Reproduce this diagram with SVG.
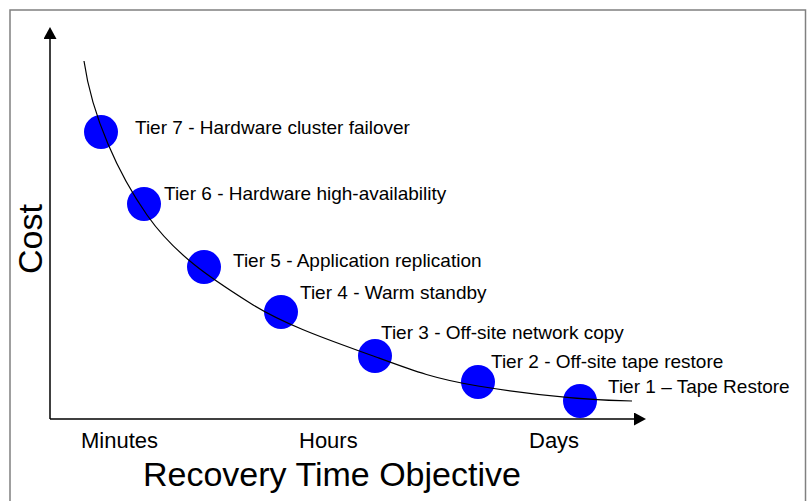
<svg xmlns="http://www.w3.org/2000/svg" width="808" height="501" viewBox="0 0 808 501">
  <style>
    text { font-family: "Liberation Sans", Arial, sans-serif; fill: #000; }
    .tier { font-size: 19px; }
    .tick { font-size: 22px; }
    .axis-title { font-size: 34px; }
    .dot { fill: #0000ff; }
    .axis { stroke: #000; stroke-width: 1.5; fill: none; }
    .curve { stroke: #000; stroke-width: 1.2; fill: none; }
  </style>
  <defs>
    <marker id="arrow" viewBox="0 0 12 13" refX="0" refY="6.5" markerWidth="12" markerHeight="13" markerUnits="userSpaceOnUse" orient="auto">
      <path d="M0,0 L12,6.5 L0,13 Z" fill="#000"/>
    </marker>
  </defs>

  <!-- frame -->
  <rect x="10" y="10" width="795.5" height="500" fill="#fff" stroke="#808080" stroke-width="1.5"/>

  <!-- axis labels -->
  <g id="axis-labels">
    <text class="axis-title" x="42" y="239" text-anchor="middle" transform="rotate(-90 42 239)">Cost</text>
    <text class="axis-title" x="143" y="486">Recovery Time Objective</text>
    <text class="tick" x="81" y="448">Minutes</text>
    <text class="tick" x="299" y="448">Hours</text>
    <text class="tick" x="529" y="448">Days</text>
  </g>

  <!-- tiers -->
  <g id="tier7">
    <circle class="dot" cx="101" cy="132" r="17"/>
    <text class="tier" x="135" y="134">Tier 7 - Hardware cluster failover</text>
  </g>
  <g id="tier6">
    <circle class="dot" cx="144" cy="204" r="17"/>
    <text class="tier" x="164" y="200">Tier 6 - Hardware high-availability</text>
  </g>
  <g id="tier5">
    <circle class="dot" cx="204" cy="267" r="17"/>
    <text class="tier" x="233" y="267">Tier 5 - Application replication</text>
  </g>
  <g id="tier4">
    <circle class="dot" cx="281" cy="312" r="17"/>
    <text class="tier" x="300" y="299">Tier 4 - Warm standby</text>
  </g>
  <g id="tier3">
    <circle class="dot" cx="375" cy="356" r="17"/>
    <text class="tier" x="381" y="339">Tier 3 - Off-site network copy</text>
  </g>
  <g id="tier2">
    <circle class="dot" cx="478" cy="382" r="17"/>
    <text class="tier" x="491" y="368">Tier 2 - Off-site tape restore</text>
  </g>
  <g id="tier1">
    <circle class="dot" cx="580" cy="401" r="17"/>
    <text class="tier" x="608" y="393">Tier 1 – Tape Restore</text>
  </g>

  <!-- axes and cost curve, drawn over the tier dots -->
  <g id="connectors">
    <line class="axis" x1="50" y1="419" x2="50" y2="39" marker-end="url(#arrow)"/>
    <line class="axis" x1="50" y1="419" x2="634" y2="419" marker-end="url(#arrow)"/>
    <path class="curve" d="M84,61 C92,117 119,175 147,215 C175,255 212,279 250,303 C288,327 338,343 376,357 C414,371 435,379 478,386 C521,393 582,400 632,401"/>
  </g>
</svg>
